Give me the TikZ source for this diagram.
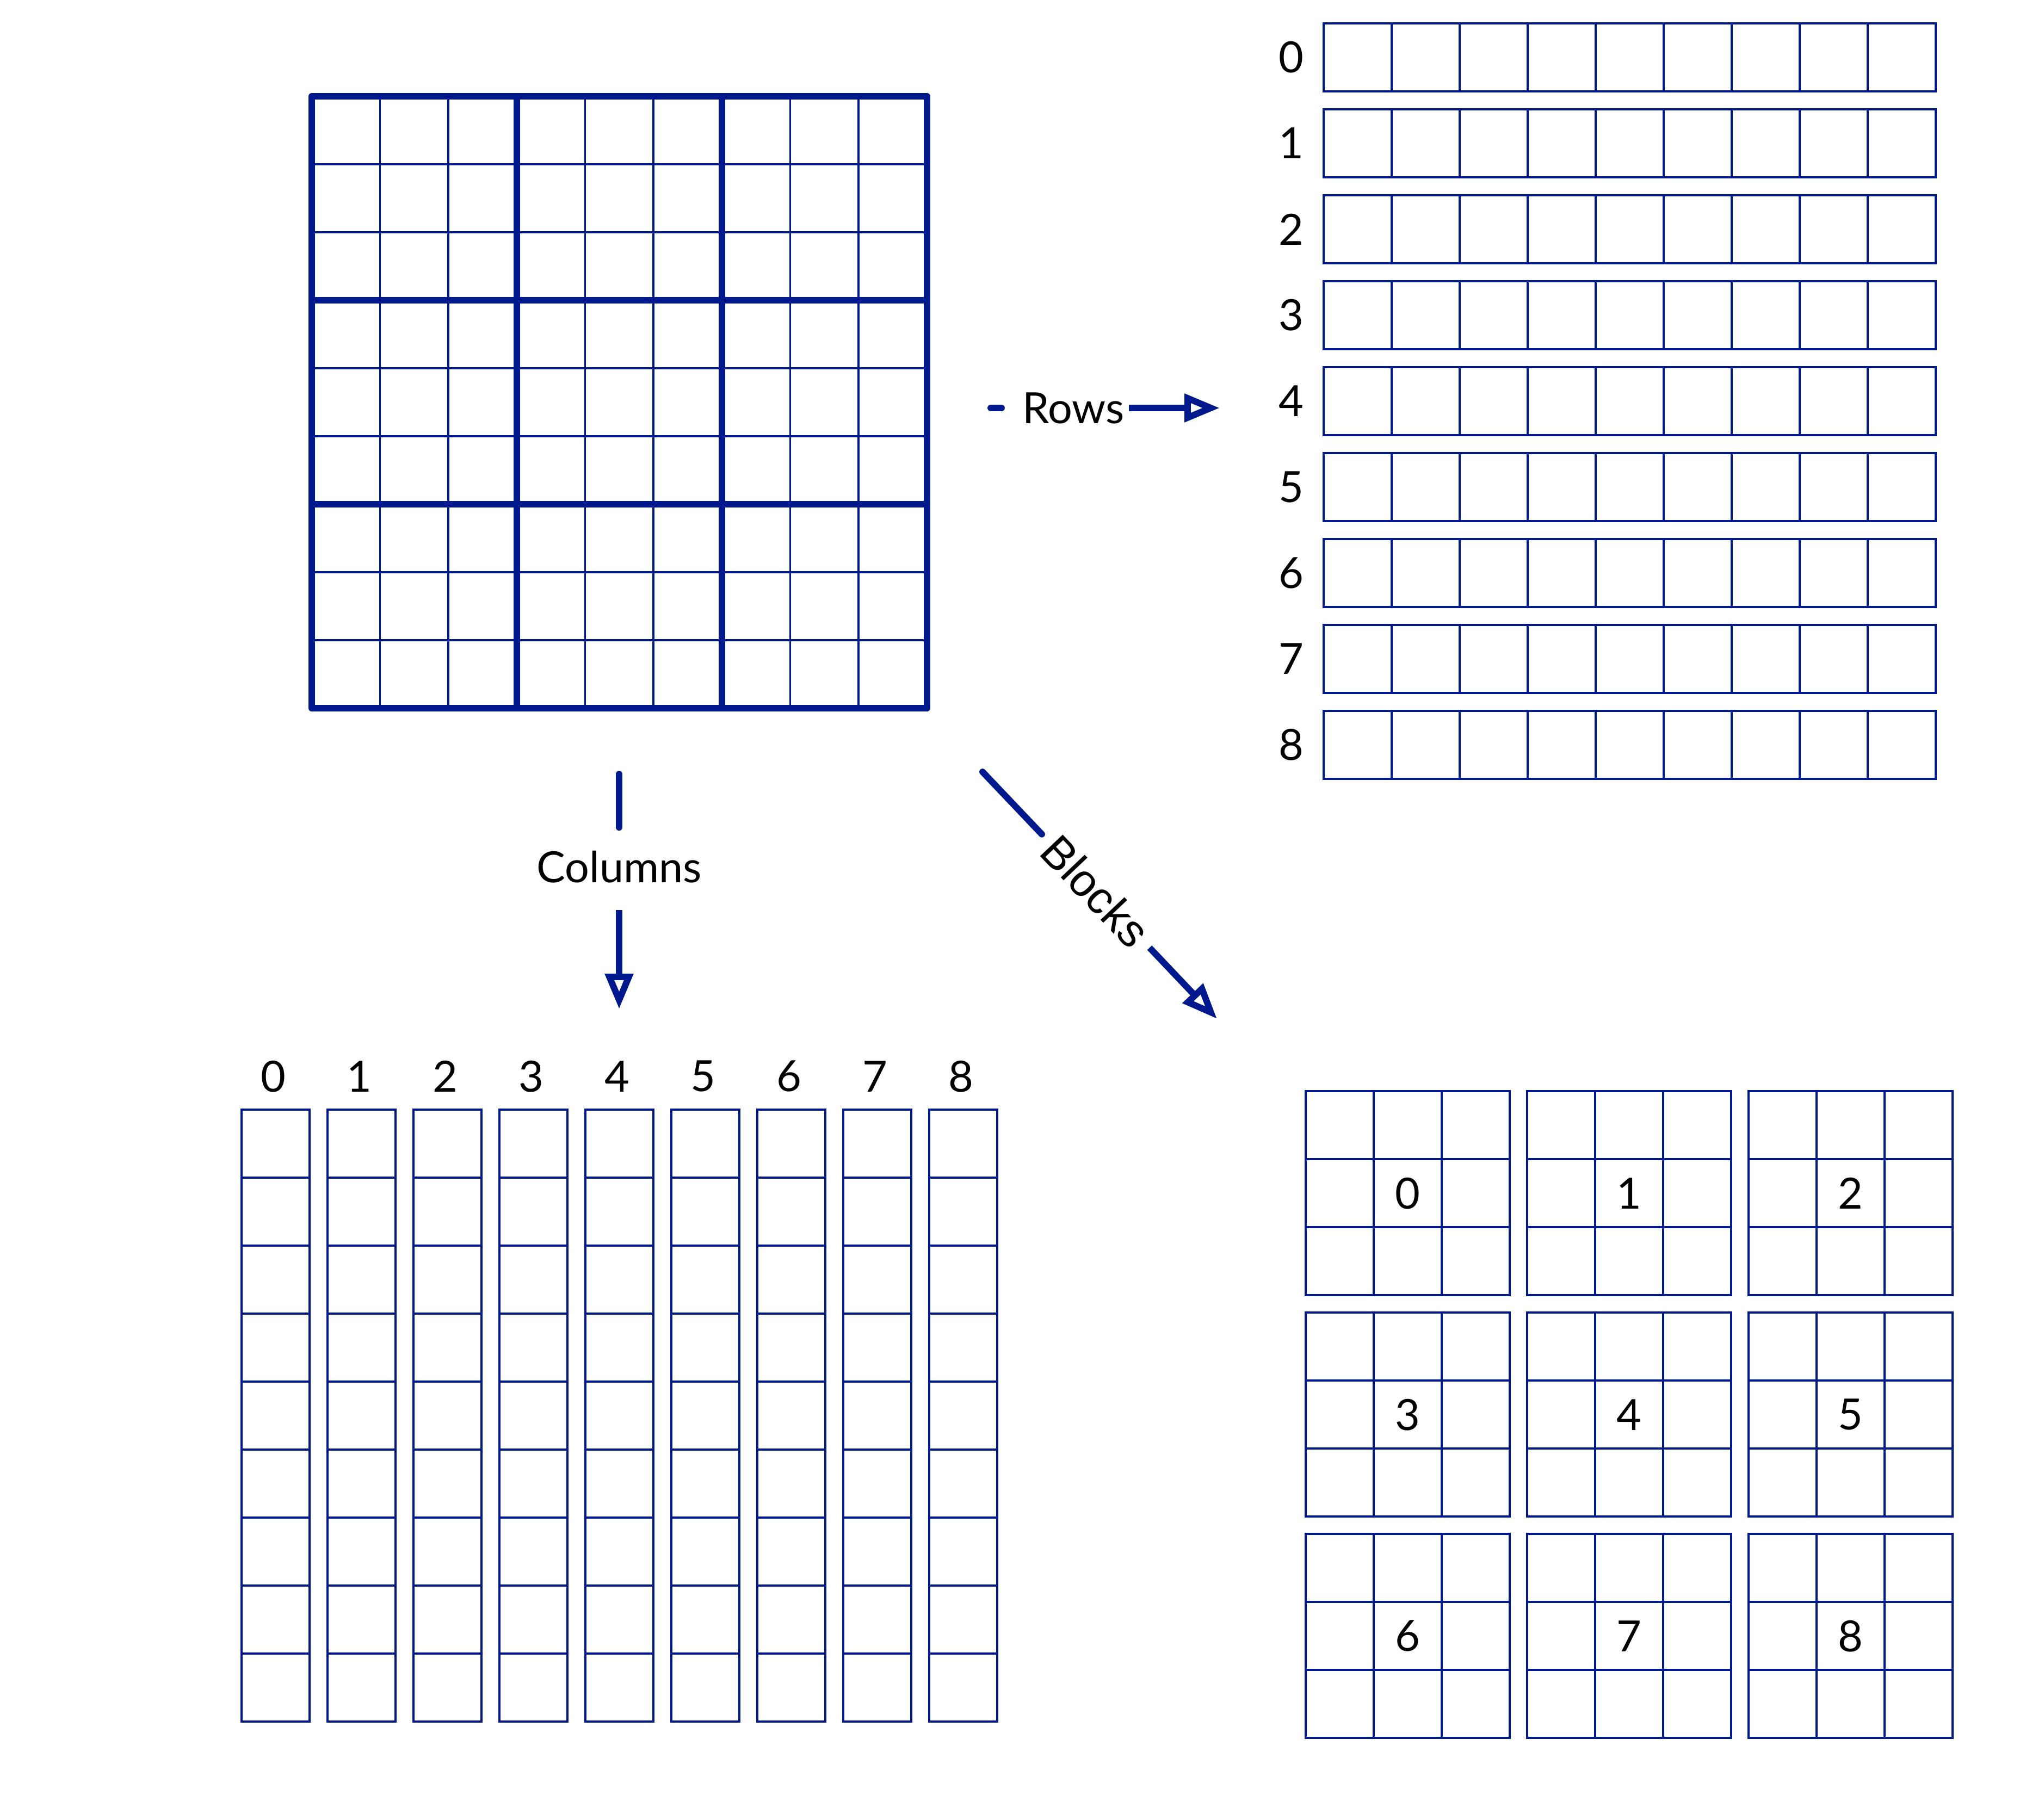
\documentclass[tikz,border=0pt]{standalone}
\usepackage{fontspec}
\setmainfont{Lato}
\newfontfamily\blockfont{Liberation Sans}
\usetikzlibrary{arrows.meta, positioning}
\definecolor{navy}{RGB}{0,25,140}

\tikzset{
    cellline/.style = {draw=navy, line width=0.85pt},
    boldline/.style = {draw=navy, line width=2.7pt, line cap=round, line join=round},
    conn/.style = {draw=navy, line width=2.7pt},
    lbl/.style = {inner sep=0pt},
}

\begin{document}
\begin{tikzpicture}[>={Triangle[open, length=0.52cm, width=0.4cm]},
                    font=\fontsize{18}{22}\selectfont]
        \def\gap{1.264}
        \def\bgap{3.256}

        \useasboundingbox (0,0) rectangle (29.792,-26.768);

        % big grid
        \begin{scope}[shift={(4.584,-10.416)}, xscale=1.005]
            \foreach \i in {1,2,4,5,7,8} {
                \draw[cellline] (\i,0) -- (\i,9);
                \draw[cellline] (0,\i) -- (9,\i);
            }
            \foreach \i in {3,6} {
                \draw[boldline] (\i,0) -- (\i,9);
                \draw[boldline] (0,\i) -- (9,\i);
            }
            \draw[boldline] (0,0) rectangle (9,9);
        \end{scope}

        % rows
        \foreach \r in {0,...,8} {
            \begin{scope}[shift={(19.464,{-1.344-\r*\gap})}]
                \foreach \c in {0,...,8}
                    \draw[cellline] (\c,0) rectangle ++(1,1);
                \node (rowlbl\r) at (-0.48,0.5) {\r};
            \end{scope}
        }

        % columns
        \foreach \c in {0,...,8} {
            \begin{scope}[shift={({3.552+\c*\gap},-25.32)}]
                \foreach \k in {0,...,8}
                    \draw[cellline] (0,\k) rectangle ++(1,1);
                \node (collbl\c) at (0.47,9.49) {\c};
            \end{scope}
        }

        % blocks
        \foreach \i in {0,1,2} {
            \foreach \j in {0,1,2} {
                \pgfmathtruncatemacro{\b}{3*\i+\j}
                \begin{scope}[shift={({19.2+\j*\bgap},{-19.05-\i*\bgap})}]
                    \foreach \x in {0,1,2}
                        \foreach \y in {0,1,2}
                            \draw[cellline] (\x,\y) rectangle ++(1,1);
                    \node (blklbl\b) at (1.5,1.5) {\b};
                \end{scope}
            }
        }

        % arrows
        \coordinate (rowsstart) at (14.568,-6.0);
        \coordinate (rowstip) at (17.936,-6.0);
        \node[lbl] (rowstxt) at (15.784,-6.0) {Rows};
        \draw[conn, line cap=round, shorten >=0.3cm] (rowsstart) -- (rowstxt.west);
        \draw[conn, ->, shorten <=0.06cm] (rowstxt.east) -- (rowstip);

        \coordinate (colsstart) at (9.104,-11.384);
        \coordinate (colstip) at (9.104,-14.84);
        \node[lbl] (colstxt) at (9.104,-12.752) {Columns};
        \draw[conn, line cap=round, shorten >=0.34cm] (colsstart) -- (colstxt.north);
        \draw[conn, ->, shorten <=0.39cm] (colstxt.south) -- (colstip);

        \coordinate (blkstart) at (14.448,-11.352);
        \coordinate (blktip) at (17.896,-14.984);
        \node[lbl, rotate=-46.5, font=\blockfont\fontsize{19}{23}\selectfont] (blktxt) at (16.112,-13.104) {Blocks};
        \draw[conn, line cap=round, shorten >=0.16cm] (blkstart) -- (blktxt.west);
        \draw[conn, ->, shorten <=0.16cm] (blktxt.east) -- (blktip);
    \end{tikzpicture}
\end{document}
